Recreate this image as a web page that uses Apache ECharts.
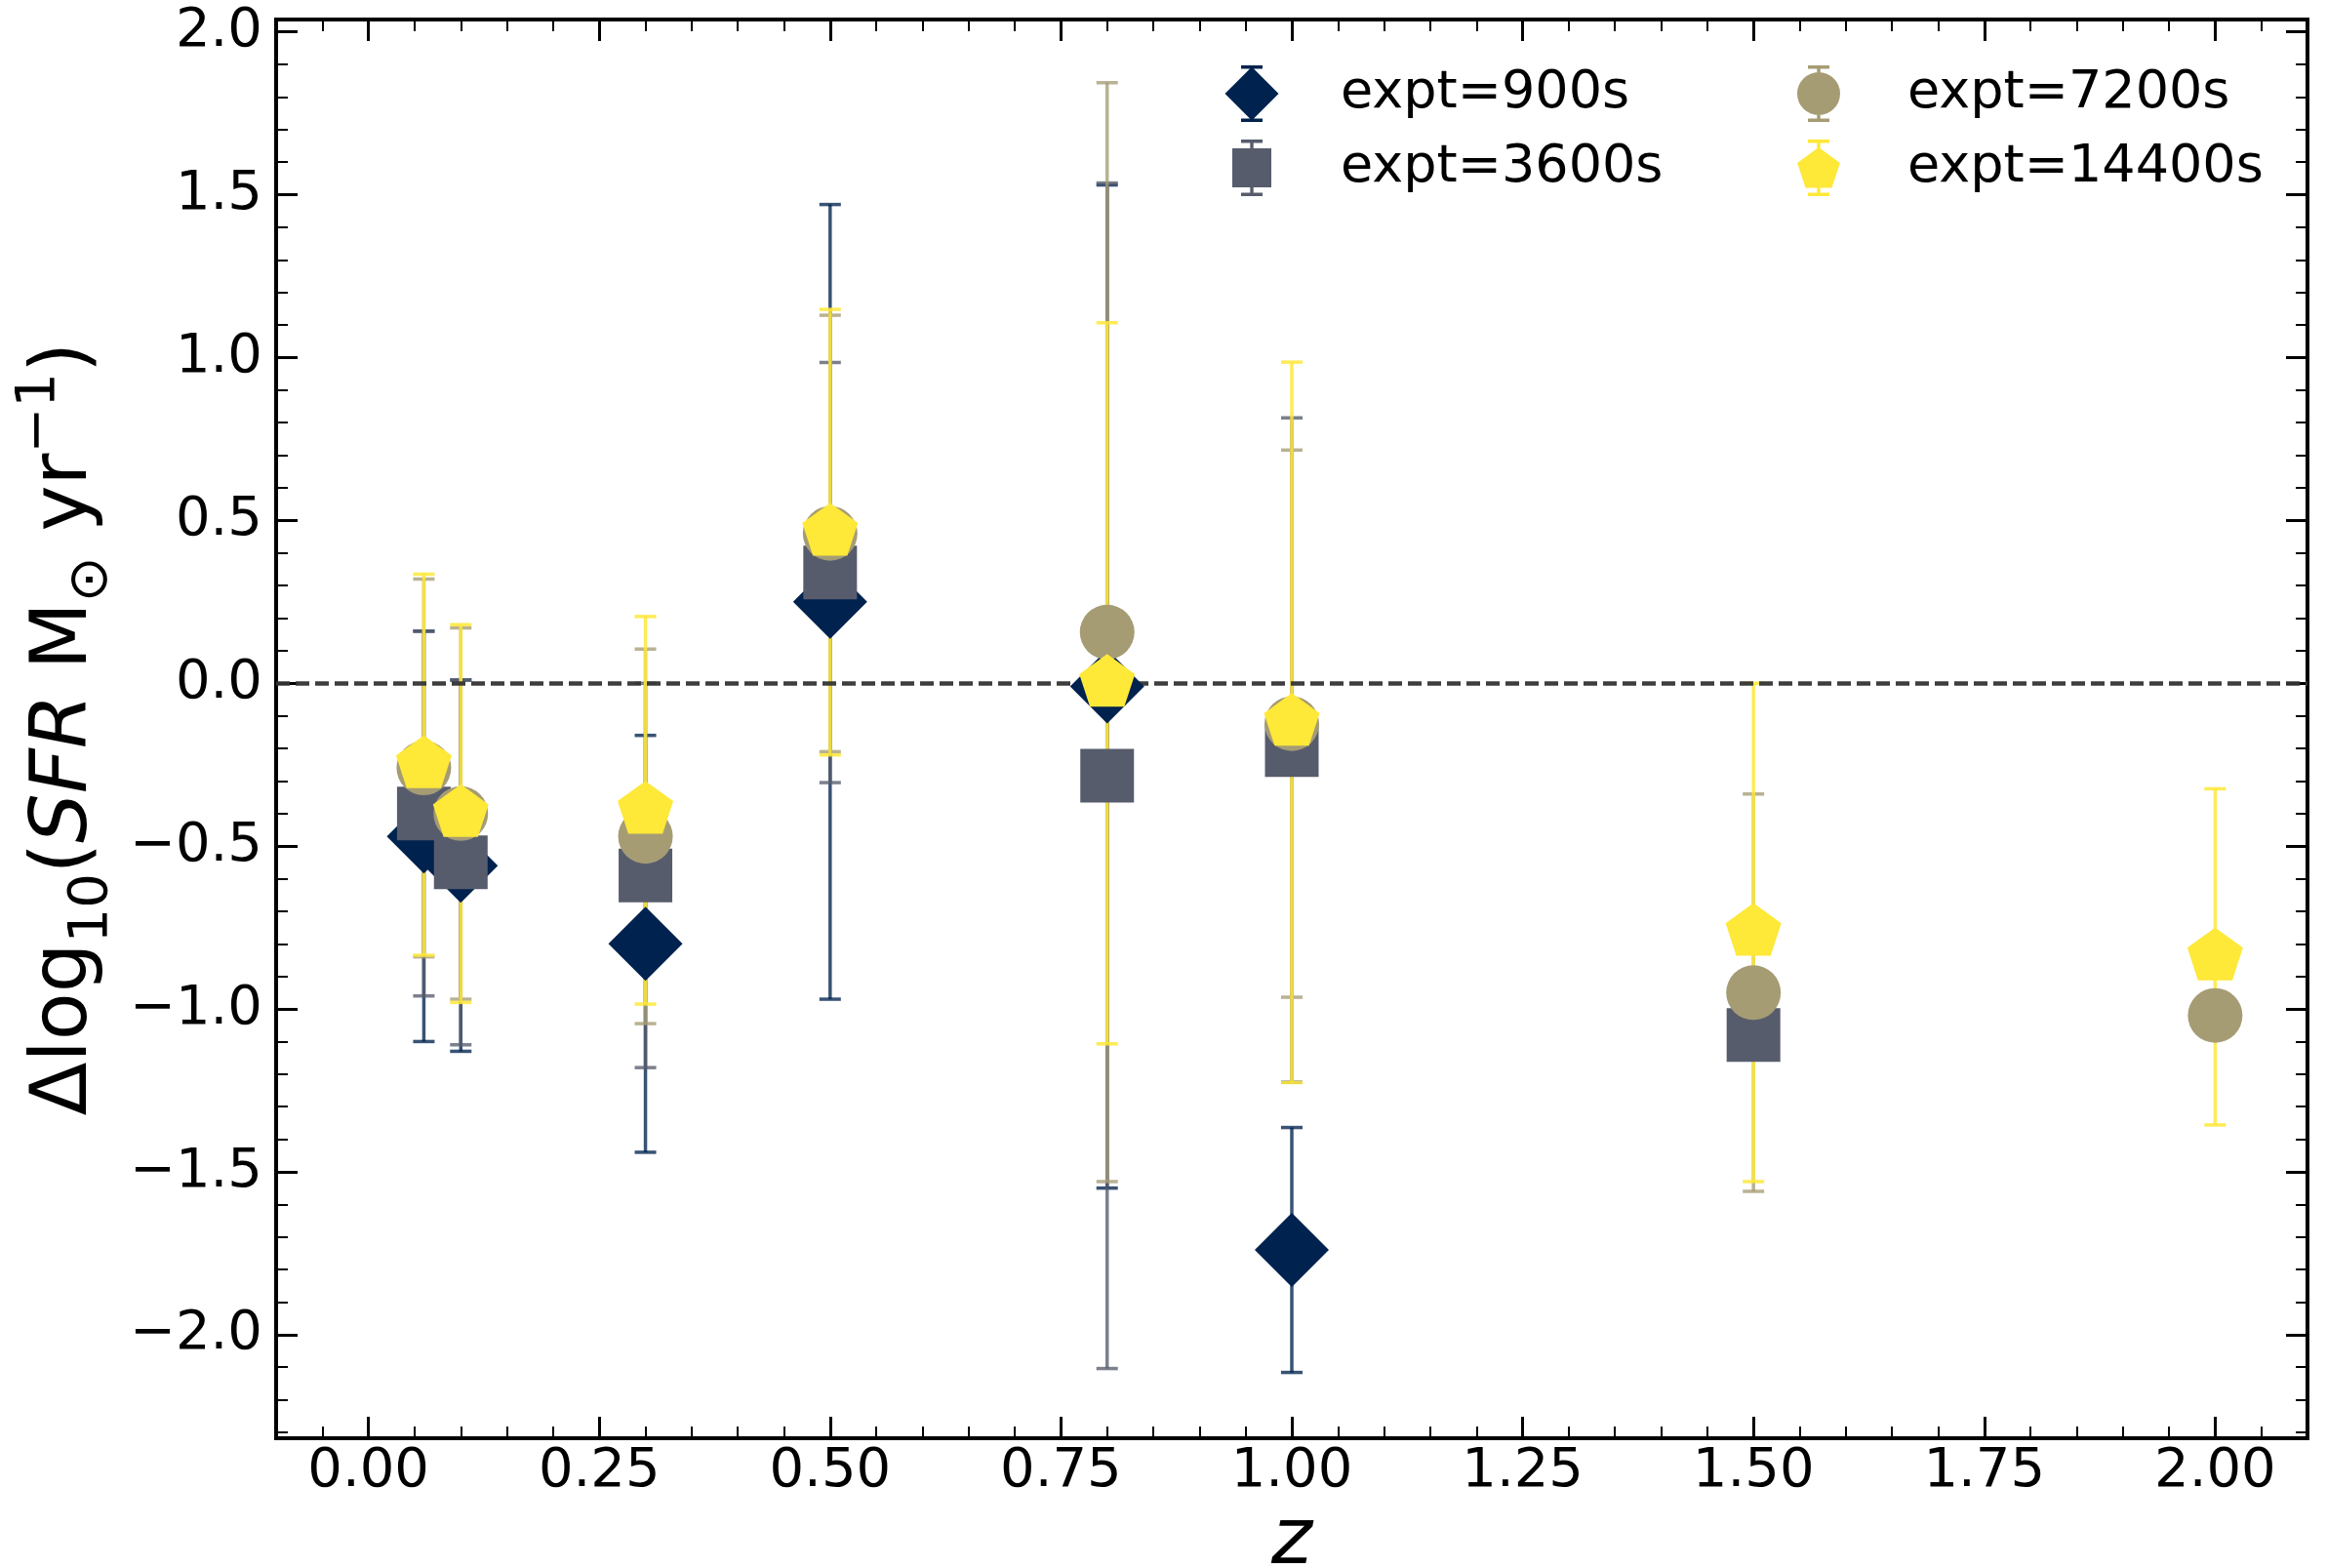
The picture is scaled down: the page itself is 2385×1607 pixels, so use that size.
<!DOCTYPE html>
<html>
<head>
<meta charset="utf-8">
<script src="https://cdn.jsdelivr.net/npm/echarts@6/dist/echarts.min.js"></script>
<style>
html,body{margin:0;padding:0;background:#fff;}
#main{width:2385px;height:1607px;}
</style>
</head>
<body>
<div id="main"></div>
<script>
// redshift bins
var zVals = [0.06, 0.1, 0.3, 0.5, 0.8, 1.0, 1.5, 2.0];
// expt=900s
var y900 = [-0.47, -0.56, -0.80, 0.25, -0.01, -1.74, null, null];
var e900 = [0.63, 0.57, 0.64, 1.22, 1.54, 0.376, null, null];
// expt=3600s
var y3600 = [-0.40, -0.55, -0.59, 0.34, -0.284, -0.205, -1.08, null];
var e3600 = [0.56, 0.56, 0.59, 0.645, 1.82, 1.02, null, null];
// expt=7200s
var y7200 = [-0.26, -0.40, -0.47, 0.46, 0.157, -0.124, -0.95, -1.02];
var e7200 = [0.58, 0.57, 0.575, 0.67, 1.687, 0.84, 0.61, null];
// expt=14400s
var y14400 = [-0.25, -0.40, -0.39, 0.464, 0.0, -0.12, -0.765, -0.84];
var e14400 = [0.585, 0.58, 0.595, 0.684, 1.107, 1.106, 0.765, 0.516];

var names = ['expt=900s', 'expt=3600s', 'expt=7200s', 'expt=14400s'];
var colors = ['#00224e', '#575c6d', '#a59c74', '#fee838'];
var barColors = ['rgba(0,34,78,0.78)', 'rgba(87,92,109,0.78)', 'rgba(165,156,116,0.78)', 'rgba(254,232,56,0.85)'];

var xMajor = [0, 0.25, 0.5, 0.75, 1, 1.25, 1.5, 1.75, 2];
var yMajor = [-2, -1.5, -1, -0.5, 0, 0.5, 1, 1.5, 2];
var xMin = -0.1, xMax = 2.1, yMin = -2.318, yMax = 2.038;

var xMinor = [];
for (var i = -1; i <= 41; i++) { if (i % 5 != 0) xMinor.push(Math.round(i * 5) / 100); }
var yMinor = [];
for (var j = -23; j <= 20; j++) { if (j % 5 != 0) yMinor.push(j / 10); }

var font = 'DejaVu Sans';

var pentagon = 'path://M50 0L97.55 34.55L79.39 90.45L20.61 90.45L2.45 34.55Z';
var ends = 'M0 29L0.01 29Z M56 29L55.99 29Z ';
var caps = 'M17 0L39 0L39 3.5L17 3.5Z M17 54.5L39 54.5L39 58L17 58Z M26.3 0L29.7 0L29.7 58L26.3 58Z ';
var iconDiamond = 'path://' + ends + caps + 'M28 1.5L55.5 29L28 56.5L0.5 29Z';
var iconSquare = 'path://' + ends + caps + 'M8 9L48 9L48 49L8 49Z';
var iconCircle = 'path://' + ends + caps + 'M6 29A22 22 0 1 1 50 29A22 22 0 1 1 6 29Z';
var iconPenta = 'path://' + ends + caps + 'M28 8L49.87 23.89L41.52 49.61L14.48 49.61L6.13 23.89Z';

function points(ys) {
	var out = [];
	for (var i = 0; i < zVals.length; i++) {
		if (ys[i] != null) out.push([zVals[i], ys[i]]);
	}
	return out;
}
function bars(ys, es) {
	var out = [];
	for (var i = 0; i < zVals.length; i++) {
		if (ys[i] != null && es[i] != null) out.push([zVals[i], ys[i] - es[i], ys[i] + es[i]]);
	}
	return out;
}

function errRender(color) {
	return function (params, api) {
		var x = api.value(0);
		var lo = api.coord([x, api.value(1)]);
		var hi = api.coord([x, api.value(2)]);
		var cw = 11;
		var st = { stroke: color, lineWidth: 3.5 };
		return {
			type: 'group',
			children: [
				{ type: 'line', shape: { x1: hi[0], y1: hi[1], x2: lo[0], y2: lo[1] }, style: st },
				{ type: 'line', shape: { x1: hi[0] - cw, y1: hi[1], x2: hi[0] + cw, y2: hi[1] }, style: st },
				{ type: 'line', shape: { x1: lo[0] - cw, y1: lo[1], x2: lo[0] + cw, y2: lo[1] }, style: st }
			]
		};
	};
}

function xAx(pos, vals, len, w, withLabel) {
	var ax = {
		type: 'value', position: pos, min: xMin, max: xMax,
		axisLine: { show: false, onZero: false },
		splitLine: { show: false },
		axisTick: { show: true, inside: true, length: len, customValues: vals, lineStyle: { color: '#000', width: w } },
		axisLabel: { show: false }
	};
	if (withLabel) {
		ax.axisLabel = {
			show: true, customValues: xMajor, margin: 6,
			fontFamily: font, fontSize: 56, color: '#000',
			formatter: function (v) { return v.toFixed(2); }
		};
		ax.name = 'z';
		ax.nameLocation = 'middle';
		ax.nameGap = 62;
		ax.nameTextStyle = { fontFamily: font, fontSize: 80, fontStyle: 'italic', color: '#000' };
	}
	return ax;
}
function yAx(pos, vals, len, w, withLabel) {
	var ax = {
		type: 'value', position: pos, min: yMin, max: yMax,
		axisLine: { show: false, onZero: false },
		splitLine: { show: false },
		axisTick: { show: true, inside: true, length: len, customValues: vals, lineStyle: { color: '#000', width: w } },
		axisLabel: { show: false }
	};
	if (withLabel) {
		ax.axisLabel = {
			show: true, customValues: yMajor, margin: 14,
			fontFamily: font, fontSize: 56, color: '#000',
			formatter: function (v) { return (v < 0 ? '\u2212' : '') + Math.abs(v).toFixed(1); }
		};
		ax.name = '{a|\u0394log}{s|10}{a|(}{i|SFR}{a| M}{s|\u2299}{a| yr}{p|\u22121}{a|)}';
		ax.nameLocation = 'middle';
		ax.nameGap = 160;
		ax.nameTextStyle = {
			fontFamily: font, fontSize: 80, color: '#000', lineHeight: 110,
			rich: {
				a: { fontFamily: font, fontSize: 80, lineHeight: 110, color: '#000', verticalAlign: 'middle' },
				i: { fontFamily: font, fontSize: 80, lineHeight: 110, color: '#000', fontStyle: 'italic', verticalAlign: 'middle' },
				s: { fontFamily: font, fontSize: 56, lineHeight: 65, color: '#000', verticalAlign: 'bottom' },
				p: { fontFamily: font, fontSize: 56, lineHeight: 64, color: '#000', verticalAlign: 'top' }
			}
		};
	}
	return ax;
}

var yList = [y900, y3600, y7200, y14400];
var eList = [e900, e3600, e7200, e14400];
var symbols = ['diamond', 'rect', 'circle', pentagon];
var sizes = [76, 55, 56, [57, 54]];

var series = [];
for (var k = 0; k < 4; k++) {
	series.push({
		type: 'custom',
		name: names[k] + ' err',
		z: 1,
		renderItem: errRender(barColors[k]),
		encode: { x: 0, y: [1, 2] },
		data: bars(yList[k], eList[k]),
		silent: true
	});
}
for (var k = 0; k < 4; k++) {
	var s = {
		type: 'scatter',
		name: names[k],
		z: 3,
		symbol: symbols[k],
		symbolSize: sizes[k],
		itemStyle: { color: colors[k], opacity: 1 },
		data: points(yList[k]),
		silent: true
	};
	if (k == 3) s.symbolOffset = [0, -3];
	if (k == 0) {
		s.markLine = {
			z: 2, silent: true, symbol: 'none', animation: false,
			label: { show: false },
			lineStyle: { color: '#333', type: [14, 6], width: 4.5, opacity: 0.95 },
			data: [{ yAxis: 0 }]
		};
	}
	series.push(s);
}

var legendText = { fontFamily: font, fontSize: 54, color: '#000', padding: [0, 0, 0, 58] };

var option = {
	animation: false,
	backgroundColor: '#fff',
	grid: {
		left: 283, right: 20, top: 20, bottom: 133,
		containLabel: false, outerBoundsMode: 'none',
		show: true, borderColor: '#000', borderWidth: 4, backgroundColor: 'transparent'
	},
	legend: [
		{
			orient: 'vertical', left: 1250, top: 62, itemWidth: 56, itemHeight: 58, itemGap: 18,
			selectedMode: false, textStyle: legendText,
			data: [{ name: names[0], icon: iconDiamond }, { name: names[1], icon: iconSquare }]
		},
		{
			orient: 'vertical', left: 1831, top: 62, itemWidth: 56, itemHeight: 58, itemGap: 18,
			selectedMode: false, textStyle: legendText,
			data: [{ name: names[2], icon: iconCircle }, { name: names[3], icon: iconPenta }]
		}
	],
	xAxis: [
		xAx('bottom', xMajor, 22, 3, true),
		xAx('bottom', xMinor, 12, 2, false),
		xAx('top', xMajor, 22, 3, false),
		xAx('top', xMinor, 12, 2, false)
	],
	yAxis: [
		yAx('left', yMajor, 22, 3, true),
		yAx('left', yMinor, 12, 2, false),
		yAx('right', yMajor, 22, 3, false),
		yAx('right', yMinor, 12, 2, false)
	],
	series: series
};

var myChart = echarts.init(document.getElementById('main'));
myChart.setOption(option);
</script>
</body>
</html>
